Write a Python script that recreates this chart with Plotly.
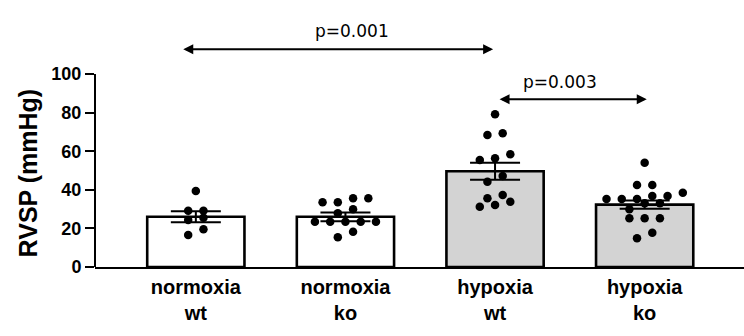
import plotly.graph_objects as go

# ---- data ----
groups = ["normoxia<br>wt", "normoxia<br>ko", "hypoxia<br>wt", "hypoxia<br>ko"]
means = [26.0, 26.0, 49.6, 32.3]
sems = [2.85, 2.3, 4.4, 2.15]
points_nwt = [39.4, 29.2, 29.2, 24.4, 25.5, 16.6, 19.5]
points_nko = [35.6, 33.5, 33.5, 35.6, 29.9, 27.8, 23.5, 23.5, 23.5, 23.5, 23.5, 15.4, 18.3]
points_hwt = [79.1, 69.3, 68.4, 55.4, 56.3, 58.4, 44.2, 47.2, 35.6, 31.2, 37.3, 32.1, 33.8]
points_hko = [54.0, 42.5, 42.5, 38.5, 35.2, 36.8, 35.2, 36.8, 35.2, 33.0, 29.9, 33.0,
              25.2, 25.2, 25.2, 14.9, 17.8]
all_points = [points_nwt, points_nko, points_hwt, points_hko]
comparisons = [  # (group a, group b, label)
    (0, 2, "p=0.001"),
    (2, 3, "p=0.003"),
]
y_ticks = [0, 20, 40, 60, 80, 100]
y_title = "RVSP (mmHg)"

# ---- styling ----
bar_colors = ["white", "white", "#d3d3d3", "#d3d3d3"]
BIN_H = 4.0      # data units: values within this of a row start share a row
STEP = 0.102     # horizontal spacing between swarm points (x units)


def swarm(values):
    """Simple row-based beeswarm: group close values, center each row."""
    order = sorted(range(len(values)), key=lambda i: values[i])
    rows, cur = [], []
    for i in order:
        if cur and values[i] - values[cur[0]] >= BIN_H:
            rows.append(cur)
            cur = []
        cur.append(i)
    if cur:
        rows.append(cur)
    offs = [0.0] * len(values)
    for r in rows:
        n = len(r)
        for k, i in enumerate(r):
            offs[i] = (k - (n - 1) / 2) * STEP
    return offs


xs = list(range(len(groups)))

fig = go.Figure()
fig.add_trace(go.Bar(
    x=xs, y=means, width=0.65,
    marker=dict(color=bar_colors, line=dict(color="black", width=2.6)),
    error_y=dict(type="data", array=sems, visible=True, color="black",
                 thickness=2, width=25),
    showlegend=False, hoverinfo="skip",
))

px_, py_ = [], []
for gi, vals in enumerate(all_points):
    offs = swarm(vals)
    for v, o in zip(vals, offs):
        px_.append(gi + o)
        py_.append(v)
fig.add_trace(go.Scatter(
    x=px_, y=py_, mode="markers",
    marker=dict(color="black", size=8.5, line=dict(width=0)),
    showlegend=False, cliponaxis=False,
))

# comparison arrows
arrow_y = [112.8, 86.9]
label_y = [122.3, 96.0]
arrow_x = [(-0.094, 1.987), (2.02, 3.014)]
label_x = [1.044, 2.434]
for k, (a, b, lab) in enumerate(comparisons):
    x0, x1 = arrow_x[k]
    fig.add_annotation(
        x=x1, y=arrow_y[k], ax=x0, ay=arrow_y[k],
        xref="x", yref="y", axref="x", ayref="y",
        text="", showarrow=True, arrowhead=2, arrowside="end+start",
        arrowsize=1, arrowwidth=2, arrowcolor="black", standoff=0, startstandoff=0,
    )
    fig.add_annotation(
        x=label_x[k], y=label_y[k], xref="x", yref="y", text=lab,
        showarrow=False, font=dict(family="DejaVu Sans", size=17, color="black"),
    )

# y axis title as rotated annotation centred on the 0-100 axis
fig.add_annotation(
    x=0, xref="paper", y=48.5, yref="y", xshift=-67, text=y_title, textangle=-90,
    showarrow=False, xanchor="center", yanchor="middle",
    font=dict(family="Liberation Sans", size=25, color="black", weight="bold"),
)

# y axis line only from 0 to 100
fig.add_shape(type="line", xref="paper", yref="y", x0=0, x1=0, y0=0, y1=100,
              line=dict(color="black", width=2))

fig.update_layout(
    width=744, height=336,
    margin=dict(l=95, r=0, t=10, b=69, autoexpand=False),
    plot_bgcolor="white", paper_bgcolor="white",
    xaxis=dict(
        range=[-0.674, 3.664], tickvals=xs, ticktext=groups,
        showline=True, linecolor="black", linewidth=2,
        ticks="outside", ticklen=1, tickcolor="rgba(0,0,0,0)",
        tickfont=dict(family="Liberation Sans", size=20, color="black", weight="bold"),
        showgrid=False, zeroline=False, fixedrange=True,
    ),
    yaxis=dict(
        range=[0, 133.16], tickvals=y_ticks,
        showline=False, ticks="outside", ticklen=9, tickwidth=2, tickcolor="black",
        tickfont=dict(family="Liberation Sans", size=18, color="black", weight="bold"),
        showgrid=False, zeroline=False, fixedrange=True,
    ),
)

fig.write_html("out.html")
